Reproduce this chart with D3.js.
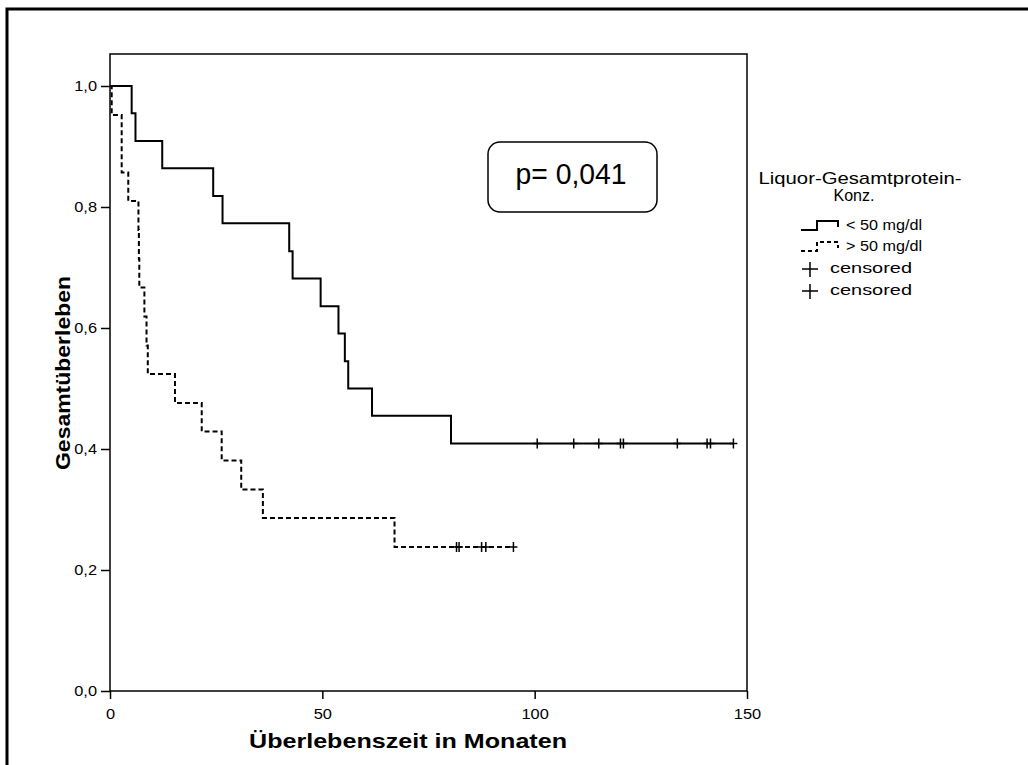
<!DOCTYPE html>
<html lang="de">
<head>
  <meta charset="UTF-8">
  <title>Gesamtüberleben</title>
  <style>
    body { margin: 0; background: #fff; overflow: hidden; }
    svg { display: block; }
    text { font-family: "Liberation Sans", Arial, sans-serif; fill: #000; }
    .tick text { font-size: 14px; }
    .tick line { stroke: #000; stroke-width: 1.5px; }
    .title { font-size: 21px; font-weight: bold; }
  </style>
</head>
<body>
  <svg width="1028" height="765"></svg>
  <script src="https://d3js.org/d3.v7.min.js"></script>
  <script>
    // Liquor-Gesamtprotein < 50 mg/dl
    const lowTimes = [0, 5.1, 6.0, 12.3, 24.3, 26.5, 42.2, 43.0, 49.6, 53.8, 55.3, 56.1, 61.7, 80.3, 146.8];
    const lowSurv  = [1.0, 0.955, 0.909, 0.864, 0.818, 0.773, 0.727, 0.682, 0.636, 0.591, 0.545, 0.5, 0.455, 0.409, 0.409];
    const lowCensored = [100.6, 109.2, 115.1, 120.2, 120.9, 133.6, 140.6, 141.4, 146.8];

    // Liquor-Gesamtprotein > 50 mg/dl
    const highTimes = [0, 0.4, 2.75, 4.3, 6.7, 6.8, 6.9, 8.1, 8.6, 8.9, 15.3, 21.6, 26.3, 30.9, 36.0, 67.0, 95.0];
    const highSurv  = [1.0, 0.952, 0.857, 0.810, 0.762, 0.714, 0.667, 0.619, 0.571, 0.524, 0.476, 0.429, 0.381, 0.333, 0.286, 0.238, 0.238];
    const highCensored = [81.6, 82.2, 87.5, 88.5, 95.0];

    const xTicks = [0, 50, 100, 150];
    const yTicks = [0, 0.2, 0.4, 0.6, 0.8, 1.0];
    const legendLabels = ["< 50 mg/dl", "> 50 mg/dl", "censored", "censored"];

    const svg = d3.select("svg");

    // stretch text horizontally, the original font runs wider than Arial
    function stretch(sel, f) {
      sel.each(function() {
        const w = this.getComputedTextLength();
        d3.select(this).attr("textLength", w * f).attr("lengthAdjust", "spacingAndGlyphs");
      });
    }
    function fitWidth(sel, w) {
      sel.attr("textLength", w).attr("lengthAdjust", "spacingAndGlyphs");
    }

    // outer frame (runs off the right and bottom)
    svg.append("rect")
      .attr("x", 7).attr("y", 9)
      .attr("width", 1100).attr("height", 900)
      .attr("fill", "none").attr("stroke", "#000").attr("stroke-width", 3);

    const x = d3.scaleLinear().domain([0, 150]).range([110, 747]);
    const y = d3.scaleLinear().domain([0, 1]).range([691, 86]);
    const frameTop = 54;

    // plot frame
    svg.append("rect")
      .attr("x", x(0)).attr("y", frameTop)
      .attr("width", x(150) - x(0)).attr("height", y(0) - frameTop)
      .attr("fill", "none").attr("stroke", "#000").attr("stroke-width", 1.5);

    const fmt = d => d.toFixed(1).replace(".", ",");

    const gy = svg.append("g")
      .attr("transform", `translate(${x(0)},0)`)
      .call(d3.axisLeft(y).tickValues(yTicks).tickFormat(fmt).tickSize(9).tickPadding(4));
    gy.select(".domain").remove();

    const gx = svg.append("g")
      .attr("transform", `translate(0,${y(0)})`)
      .call(d3.axisBottom(x).tickValues(xTicks).tickFormat(d3.format("d")).tickSize(8).tickPadding(10));
    gx.select(".domain").remove();

    svg.selectAll(".tick text").attr("font-family", null);
    stretch(svg.selectAll(".tick text"), 1.17);

    // axis titles
    const xt = svg.append("text").attr("class", "title")
      .attr("x", 408).attr("y", 748)
      .attr("text-anchor", "middle")
      .text("Überlebenszeit in Monaten");
    fitWidth(xt, 318);

    const yt = svg.append("text").attr("class", "title")
      .attr("transform", "translate(70,373) rotate(-90)")
      .attr("text-anchor", "middle")
      .text("Gesamtüberleben");
    fitWidth(yt, 194);

    // survival curves
    const line = d3.line()
      .x(d => x(d[0]))
      .y(d => y(d[1]))
      .curve(d3.curveStepAfter);

    const lowPts = lowTimes.map((t, i) => [t, lowSurv[i]]);
    const highPts = highTimes.map((t, i) => [t, highSurv[i]]);

    svg.append("path")
      .datum(highPts)
      .attr("d", line)
      .attr("fill", "none").attr("stroke", "#000")
      .attr("stroke-width", 2).attr("stroke-dasharray", "5,3");

    svg.append("path")
      .datum(lowPts)
      .attr("d", line)
      .attr("fill", "none").attr("stroke", "#000")
      .attr("stroke-width", 2);

    // survival value at a time, read from the step data
    function survAt(times, surv, t) {
      let s = surv[0];
      times.forEach((tt, i) => { if (tt <= t) s = surv[i]; });
      return s;
    }

    function drawCensors(times, surv, cens) {
      svg.append("g").selectAll("path")
        .data(cens)
        .join("path")
        .attr("d", d => {
          const cx = x(d), cy = y(survAt(times, surv, d));
          return `M${cx - 4},${cy}H${cx + 4}M${cx},${cy - 5}V${cy + 5}`;
        })
        .attr("stroke", "#000").attr("stroke-width", 1.5).attr("fill", "none");
    }
    drawCensors(lowTimes, lowSurv, lowCensored);
    drawCensors(highTimes, highSurv, highCensored);

    // p-value box
    svg.append("rect")
      .attr("x", 488).attr("y", 142).attr("width", 169).attr("height", 70)
      .attr("rx", 12).attr("ry", 12)
      .attr("fill", "#fff").attr("stroke", "#000").attr("stroke-width", 1.5);
    const pt = svg.append("text")
      .attr("x", 571).attr("y", 184)
      .attr("text-anchor", "middle")
      .attr("font-size", 29)
      .text("p= 0,041");
    fitWidth(pt, 111);

    // legend
    const lg = svg.append("g");
    fitWidth(lg.append("text")
      .attr("x", 860).attr("y", 184).attr("text-anchor", "middle")
      .attr("font-size", 17).text("Liquor-Gesamtprotein-"), 203);
    lg.append("text")
      .attr("x", 854).attr("y", 201).attr("text-anchor", "middle")
      .attr("font-size", 16).text("Konz.");

    const rowY = [230, 251, 273, 295];
    const rowW = [76, 76, 82, 82];
    const rowX = [846, 846, 830, 830];

    // step icons
    [0, 1].forEach(i => {
      const by = rowY[i];
      lg.append("path")
        .attr("d", `M801,${by}H817V${by - 9}H838V${by - 3}`)
        .attr("fill", "none").attr("stroke", "#000").attr("stroke-width", 2)
        .attr("stroke-dasharray", i === 1 ? "4,3" : null);
    });
    // censor icons
    [2, 3].forEach(i => {
      const cy = rowY[i] - 4;
      lg.append("path")
        .attr("d", `M802,${cy}H818M810,${cy - 7}V${cy + 8}`)
        .attr("fill", "none").attr("stroke", "#000").attr("stroke-width", 1.5);
    });

    legendLabels.forEach((lab, i) => {
      fitWidth(lg.append("text")
        .attr("x", rowX[i]).attr("y", rowY[i])
        .attr("font-size", 14).text(lab), rowW[i]);
    });
  </script>
</body>
</html>
